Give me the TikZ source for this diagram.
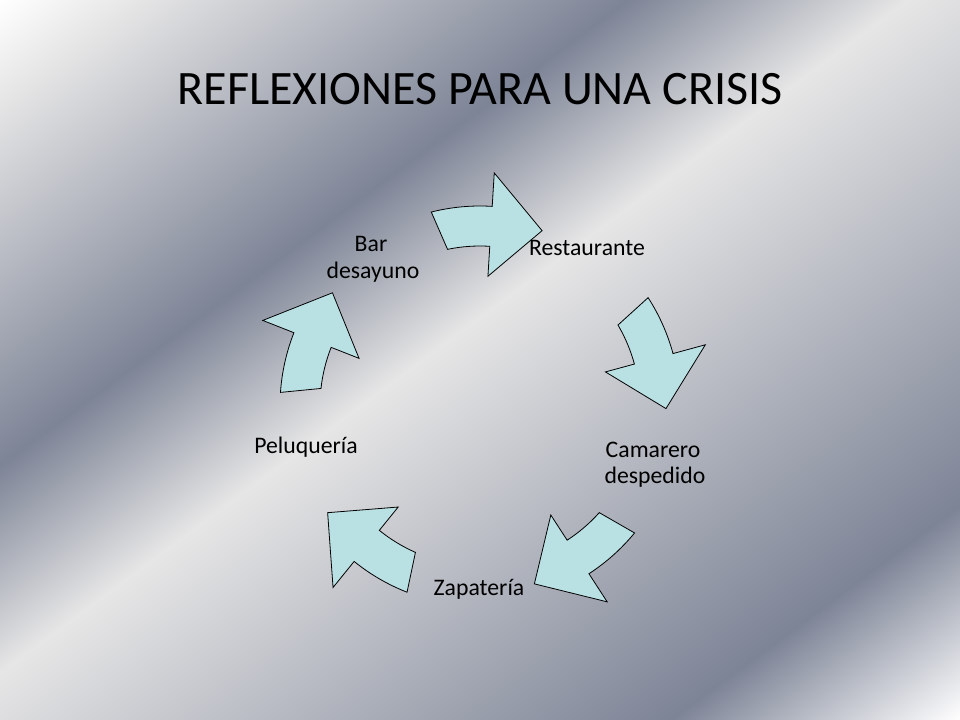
\documentclass[tikz,border=0pt]{standalone}
\usepackage{fontspec}
\setmainfont{Carlito}
\definecolor{sLight}{HTML}{E6E6E6}
\definecolor{sDark}{HTML}{7D8496}
\definecolor{arrowFill}{RGB}{185,225,228}
\pgfdeclarehorizontalshading{silverx}{100bp}{color(0bp)=(white); color(25bp)=(white); color(28.5bp)=(sLight); color(41.25bp)=(sDark); color(48.5bp)=(sLight); color(67.5bp)=(sDark); color(75bp)=(white); color(100bp)=(white)}
\begin{document}
\begin{tikzpicture}[x=0.75pt,y=-0.75pt,
  cyc/.style={fill=arrowFill,draw=black,line width=0.6pt,line join=miter},
  lbl/.style={font=\fontsize{17.8}{21}\selectfont,anchor=base,inner sep=0pt,text=black},
  ttl/.style={font=\fontsize{36}{43}\selectfont,anchor=base,inner sep=0pt,text=black}]
\useasboundingbox (0,0) rectangle (960,720);
\begin{scope}
  \clip (0,0) rectangle (960,720);
  \begin{scope}[transform canvas={rotate=-53.47}]
    \shade[shading=silverx] (0pt,-1200pt) rectangle (862.5pt,1200pt);
  \end{scope}
\end{scope}
\node[ttl] (title) at (480,105) {REFLEXIONES PARA UNA CRISIS};
\foreach \s in {-86.5,-15.2,57,129,201.5} {
  \draw[cyc,shift={(480,406)}] ({\s-17.6}:200) arc[start angle={\s-17.6}, end angle=\s, radius=200]
    -- (\s:233.5) -- ({\s+16}:186) -- (\s:130) -- (\s:160)
    arc[start angle=\s, end angle={\s-15.2}, radius=160] -- cycle;
}
\node[lbl] (restaurante) at (587,256) {Restaurante};
\node[lbl] (camareroA) at (653,457) {Camarero};
\node[lbl] (camareroB) at (655,483) {despedido};
\node[lbl] (zapateria) at (479,595) {Zapatería};
\node[lbl] (peluqueria) at (306,453) {Peluquería};
\node[lbl] (barA) at (371,252) {Bar};
\node[lbl] (barB) at (373,279) {desayuno};
\end{tikzpicture}
\end{document}
